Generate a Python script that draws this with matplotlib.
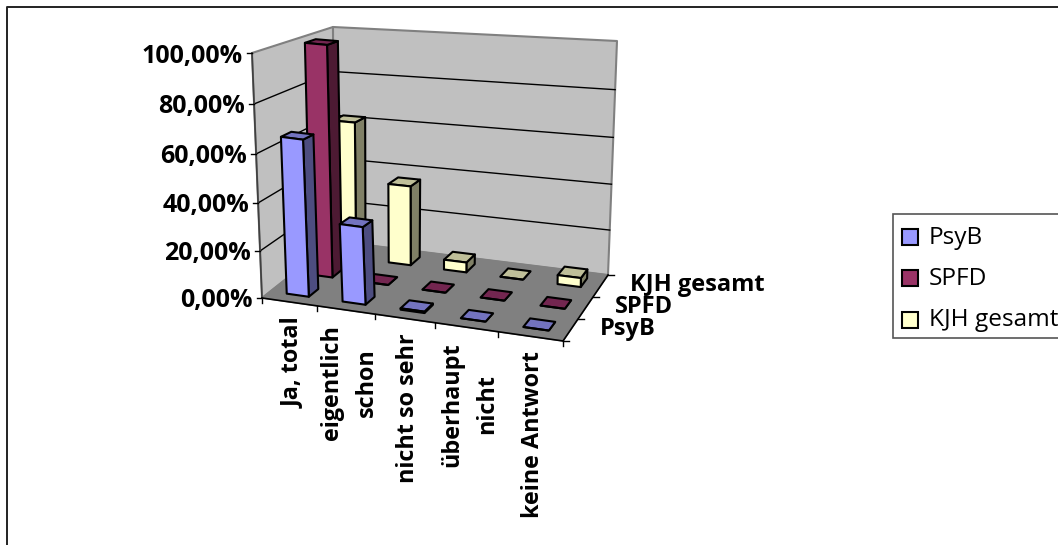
import matplotlib
matplotlib.use("Agg")
import matplotlib.pyplot as plt
from matplotlib.patches import Polygon
import numpy as np

categories = ["Ja, total", "eigentlich\nschon", "nicht so sehr", "überhaupt\nnicht", "keine Antwort"]
series_names = ["PsyB", "SPFD", "KJH gesamt"]
psyb = [66, 33, 0.6, 0, 0]
spfd = [100, 0, 0, 0, 0]
kjh = [62, 36, 4.5, 0, 4]
y_ticks = [0, 20, 40, 60, 80, 100]
y_tick_labels = ["0,00%", "20,00%", "40,00%", "60,00%", "80,00%", "100,00%"]

fronts = ["#9999FF", "#993366", "#FFFFCC"]
sides = ["#4D4D80", "#4D1A33", "#808066"]
tops = ["#7373BF", "#732650", "#BFBF99"]

# Frame of the 3-D box, in figure pixels
FLB, FRB, BRB, BLB = (262, 298), (563, 341), (608, 275), (334, 241)
FLT, FRT, BRT, BLT = (252, 53), (552, 92), (617, 41), (333, 27)
NC, NS = len(categories), len(series_names)
BAR_W, BAR_D, BAR_S = 0.40, 0.40, 0.55
PERSP_H, PERSP_U = 0.05, 0.10
LBL_FONT = "Open Sans"

fig = plt.figure(figsize=(10.58, 5.45), dpi=100)
ax = fig.add_axes([0, 0, 1, 1])
ax.set_xlim(0, 1058)
ax.set_ylim(545, 0)
ax.axis("off")


def proj(c, s, v):
    u, w, h = c / NC, s / NS, v / 100
    h = h * (1 - PERSP_H * (1 - h))
    u = u * (1 - PERSP_U * (1 - 0.7 * w) * (1 - u))
    pts = np.array([FLB, FRB, BRB, BLB, FLT, FRT, BRT, BLT], float)
    wt = [(1-u)*(1-w)*(1-h), u*(1-w)*(1-h), u*w*(1-h), (1-u)*w*(1-h),
          (1-u)*(1-w)*h, u*(1-w)*h, u*w*h, (1-u)*w*h]
    return tuple(np.dot(wt, pts))


def poly(points, fc, ec="black", lw=1.5, z=2):
    ax.add_patch(Polygon(points, closed=True, fc=fc, ec=ec, lw=lw, joinstyle="round", zorder=z))


# chart area border
ax.plot([7, 7, 1058], [545, 7, 7], color="#222222", lw=1.4, zorder=1)

# walls and floor
poly([proj(0, 0, 0), proj(0, NS, 0), proj(0, NS, 100), proj(0, 0, 100)], "#C0C0C0", "#808080", 1.5)
poly([proj(0, NS, 0), proj(NC, NS, 0), proj(NC, NS, 100), proj(0, NS, 100)], "#C0C0C0", "#808080", 1.5)
poly([proj(0, 0, 0), proj(NC, 0, 0), proj(NC, NS, 0), proj(0, NS, 0)], "#808080", "#808080", 1)

# gridlines
for t in y_ticks[1:-1]:
    a, b, c = proj(0, 0, t), proj(0, NS, t), proj(NC, NS, t)
    ax.plot([a[0], b[0], c[0]], [a[1], b[1], c[1]], color="black", lw=1, zorder=3)

# axes and ticks
a, b = proj(0, 0, 0), proj(0, 0, 100)
ax.plot([a[0], b[0]], [a[1], b[1]], color="#404040", lw=1.2, zorder=3)
a, b, c = proj(0, 0, 0), proj(NC, 0, 0), proj(NC, NS, 0)
ax.plot([a[0], b[0], c[0]], [a[1], b[1], c[1]], color="black", lw=1.2, zorder=3)

for t, lab in zip(y_ticks, y_tick_labels):
    x, y = proj(0, 0, t)
    ax.plot([x - 5, x], [y, y], color="black", lw=1, zorder=3)
    ax.text(x - 9, y + 3, lab, ha="right", va="center", fontsize=18,
            fontweight="bold", family=LBL_FONT, color="black")
for i in range(NC + 1):
    x, y = proj(i, 0, 0)
    ax.plot([x, x], [y, y + 5], color="black", lw=1, zorder=3)
for j in range(NS + 1):
    x, y = proj(NC, j, 0)
    ax.plot([x, x + 6], [y, y], color="black", lw=1, zorder=3)
for i, lab in enumerate(categories):
    x, y = proj(i + 0.5, 0, 0)
    ax.text(x + 3, y + 15, lab, rotation=90, ha="center", va="top", ma="center",
            fontsize=16.8, fontweight="bold", family=LBL_FONT, linespacing=1.6)
for j, lab in enumerate(series_names):
    x, y = proj(NC, j + 0.5, 0)
    ax.text(x + 29, y - 1, lab, ha="left", va="center", fontsize=17,
            fontweight="bold", family=LBL_FONT)

# bars, back row first
data = [psyb, spfd, kjh]
z = 5
for j in range(NS - 1, -1, -1):
    for i in range(NC):
        v = data[j][i]
        c0, c1 = i + 0.5 - BAR_W / 2, i + 0.5 + BAR_W / 2
        s0, s1 = j + BAR_S - BAR_D / 2, j + BAR_S + BAR_D / 2
        poly([proj(c1, s0, 0), proj(c1, s1, 0), proj(c1, s1, v), proj(c1, s0, v)], sides[j], z=z)
        poly([proj(c0, s0, v), proj(c1, s0, v), proj(c1, s1, v), proj(c0, s1, v)], tops[j], z=z)
        poly([proj(c0, s0, 0), proj(c1, s0, 0), proj(c1, s0, v), proj(c0, s0, v)], fronts[j], z=z)
        z += 1

# legend
ax.add_patch(Polygon([(893, 214), (1060, 214), (1060, 338), (893, 338)], closed=True,
                     fc="white", ec="#555555", lw=1.2, zorder=2))
for j, name in enumerate(series_names):
    yc = 236.5 + j * 41.5
    ax.add_patch(Polygon([(902, yc - 8), (918, yc - 8), (918, yc + 8), (902, yc + 8)], closed=True,
                         fc=fronts[j], ec="black", lw=1.5, zorder=3))
    ax.text(929, yc + 1, name, ha="left", va="center", fontsize=17.6, family=LBL_FONT, zorder=3)

fig.savefig("out.png", dpi=100)
